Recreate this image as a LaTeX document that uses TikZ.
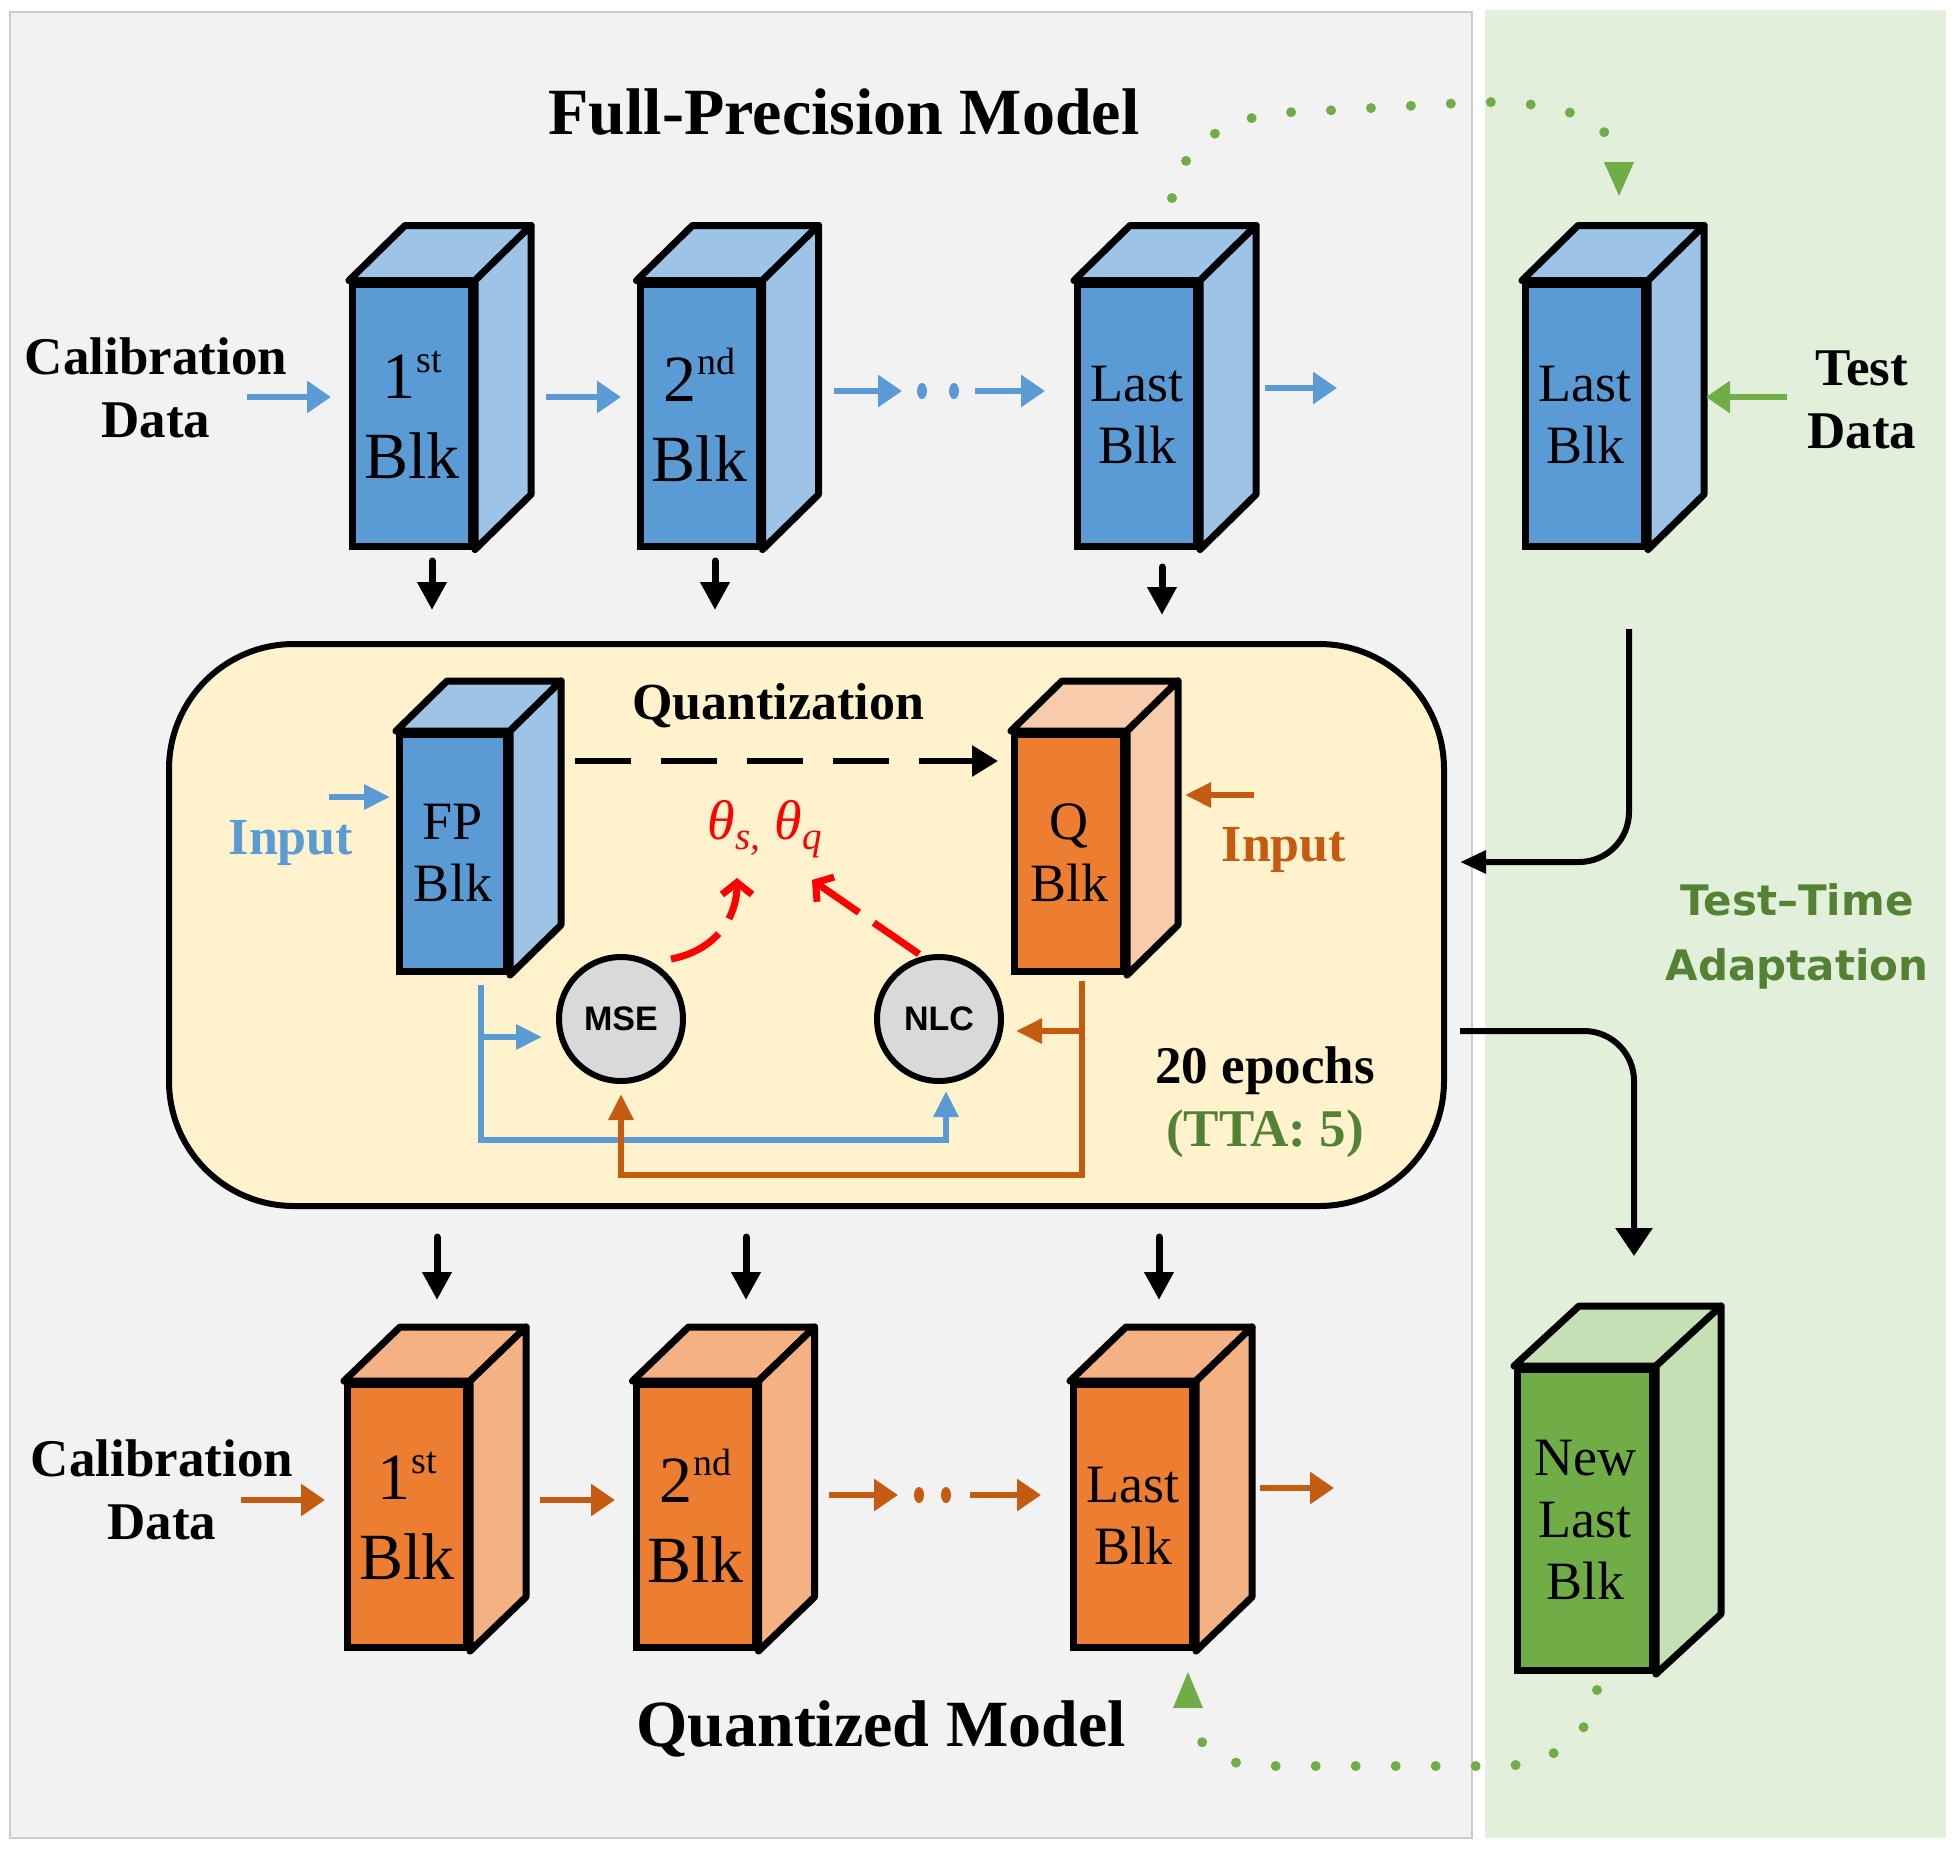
\documentclass[tikz,border=0pt]{standalone}
\usepackage{fontspec}
\setmainfont{Liberation Serif}
\newfontfamily\sansf{Liberation Sans}
\newfontfamily\dejaf{DejaVu Sans}
\usetikzlibrary{arrows.meta,calc}
\definecolor{fpblue}{HTML}{5B9BD5}
\definecolor{fplight}{HTML}{9DC3E6}
\definecolor{qor}{HTML}{ED7D31}
\definecolor{qlight}{HTML}{F4B183}
\definecolor{qlighter}{HTML}{F8CBAD}
\definecolor{gfront}{HTML}{70AD47}
\definecolor{glight}{HTML}{C5E0B4}
\definecolor{arrblue}{HTML}{5B9BD5}
\definecolor{arror}{HTML}{C55A11}
\definecolor{ttagreen}{HTML}{548235}
\definecolor{dotgreen}{HTML}{70AD47}
\definecolor{boxfill}{HTML}{FFF2CC}
\definecolor{panelgray}{HTML}{F2F2F2}
\definecolor{panelgreen}{HTML}{E2EFDA}
\definecolor{circfill}{HTML}{D9D9D9}
\newcommand\fsz[2]{\fontsize{#1}{#2}\selectfont}
\newcommand\supr[1]{\kern1pt\raisebox{0.40em}{\fsz{38}{38}#1}}
% cube: [front options]{name}{(position)}{dx,dy}{side colour}
\newcommand\cube[5][]{%
  \node[blkfront,#1] (#2) at #3 {};
  \draw[blkline,fill=#5] (#2.north west) -- ++(#4) -- ($(#2.north east)+(#4)$) -- (#2.north east) -- cycle;
  \draw[blkline,fill=#5] (#2.north east) -- ++(#4) -- ($(#2.south east)+(#4)$) -- (#2.south east) -- cycle;
}
\begin{document}
\begin{tikzpicture}[x=1pt,y=-1pt,
  blkfront/.style={draw=black, line width=7pt, minimum width=119pt, minimum height=262pt, inner sep=0pt, align=center, text=black},
  blkline/.style={draw=black, line width=7pt, line join=round},
  ordfont/.style={font=\fsz{66}{80}},
  lastfont/.style={font=\fsz{54}{62}},
  harrow/.style={line width=6pt, -{Triangle[length=24pt,width=31pt]}},
  downarrow/.style={draw=black, line width=7pt, line cap=round, -{Triangle[length=28pt,width=28pt]}},
  thinarrow/.style={line width=6pt, -{Triangle[length=26pt,width=24pt]}},
  bigblack/.style={draw=black, line width=6pt},
  greendots/.style={draw=dotgreen, line width=10pt, line cap=round, dash pattern=on 0pt off 40pt},
  redarrow/.style={draw=red, line width=7pt, dash pattern=on 55pt off 18pt, -{Straight Barb[length=12pt,width=30pt]}},
  labelb/.style={font=\bfseries\fsz{53}{63}, align=center},
  circ/.style={circle, draw=black, line width=6pt, fill=circfill, minimum size=124pt, inner sep=0pt, font=\sansf\bfseries\fsz{34}{40}}
]
\useasboundingbox (0,0) rectangle (1960,1856);
% panels
\fill[white] (0,0) rectangle (1960,1856);
\filldraw[fill=panelgray, draw=black!20, line width=1.5pt] (10,12) rectangle (1472,1838);
\fill[panelgreen] (1485,10) rectangle (1946,1838);

% titles
\node[font=\bfseries\fsz{66}{79}] (ttl) at (844,112) {Full-Precision Model};
\node[font=\bfseries\fsz{66}{79}] (ttlq) at (881,1729) {Quantized Model};

% middle box
\node[draw=black, line width=6pt, fill=boxfill, rounded corners=125pt, minimum width=1275pt, minimum height=562pt] (box) at (806.5,925) {};

% top row (full precision)
\cube[fill=fpblue]{t1}{(412,415)}{56,-55}{fplight}
\cube[fill=fpblue]{t2}{(699.5,415)}{56,-55}{fplight}
\cube[fill=fpblue]{t3}{(1137,415)}{56,-55}{fplight}
\cube[fill=fpblue]{t4}{(1585,415)}{56,-55}{fplight}
\node[ordfont, align=center] (t1txt) at (t1) {1\supr{st}\\Blk};
\node[ordfont, align=center] (t2txt) at (t2) {2\supr{nd}\\Blk};
\node[lastfont, align=center] (t3txt) at (t3) {Last\\Blk};
\node[lastfont, align=center] (t4txt) at (t4) {Last\\Blk};

% bottom row (quantized)
\cube[fill=qor, minimum height=263pt]{b1}{(407,1516)}{56,-54}{qlight}
\cube[fill=qor, minimum height=263pt]{b2}{(695.5,1516)}{56,-54}{qlight}
\cube[fill=qor, minimum height=263pt]{b3}{(1133,1516)}{56,-54}{qlight}
\cube[fill=gfront, minimum width=135pt, minimum height=301pt]{nb}{(1585,1520)}{65,-60}{glight}
\node[ordfont, align=center] (b1txt) at (b1) {1\supr{st}\\Blk};
\node[ordfont, align=center] (b2txt) at (b2) {2\supr{nd}\\Blk};
\node[lastfont, align=center] (b3txt) at (b3) {Last\\Blk};
\node[lastfont, align=center] (nbtxt) at (nb) {New\\Last\\Blk};

% middle blocks
\cube[fill=fpblue, minimum width=107pt, minimum height=237pt]{fp}{(453,853)}{51,-50}{fplight}
\cube[fill=qor, minimum width=109pt, minimum height=237pt]{qb}{(1069,853)}{51,-50}{qlighter}
\node[lastfont, align=center] (fptxt) at (fp) {FP\\Blk};
\node[lastfont, align=center] (qtxt) at (qb) {Q\\Blk};

% labels
\node[labelb] (cal1) at (156,388) {Calibration\\Data};
\node[labelb] (cal2) at (162,1490) {Calibration\\Data};
\node[labelb] (test) at (1862,400) {Test\\Data};
\node[font=\bfseries\fsz{52}{60}] (quant) at (778,706) {Quantization};
\node[font=\bfseries\fsz{52}{60}, text=arrblue] (inb) at (291,843) {Input};
\node[font=\bfseries\fsz{52}{60}, text=arror] (ino) at (1284,850) {Input};
\node[font=\itshape\fsz{56}{60}, text=red] (theta) at (765,829) {θ\textsubscript{s,} θ\textsubscript{q}};
\node[font=\bfseries\fsz{53}{63}] (ep) at (1265,1071) {20 epochs};
\node[font=\bfseries\fsz{53}{63}, text=ttagreen] (tta) at (1265,1134) {(TTA: 5)};
\node[font=\dejaf\bfseries\fsz{42}{65}, text=ttagreen, align=center] (ttalbl) at (1797,936) {Test–Time\\Adaptation};

% circles
\node[circ] (mse) at (621,1019) {MSE};
\node[circ] (nlc) at (939,1019) {NLC};

% top row arrows
\draw[harrow, arrblue] (247,397) -- (331,397);
\draw[harrow, arrblue] (546,397) -- (621,397);
\draw[harrow, arrblue] (834,391) -- (902,391);
\fill[arrblue] (922,391) ellipse (5pt and 8pt) (954,391) ellipse (5pt and 8pt);
\draw[harrow, arrblue] (975,391) -- (1045,391);
\draw[harrow, arrblue] (1265,388) -- (1337,388);
\draw[harrow, dotgreen] (1787,397) -- (1706,397);

% bottom row arrows
\draw[harrow, arror] (241,1500) -- (325,1500);
\draw[harrow, arror] (540,1500) -- (615,1500);
\draw[harrow, arror] (829,1495) -- (898,1495);
\fill[arror] (919,1495) ellipse (5pt and 8pt) (946,1495) ellipse (5pt and 8pt);
\draw[harrow, arror] (970,1495) -- (1041,1495);
\draw[harrow, arror] (1260,1488) -- (1334,1488);

% down arrows
\draw[downarrow] (432,561) -- (432,610);
\draw[downarrow] (715,561) -- (715,610);
\draw[downarrow] (1162,567) -- (1162,615);
\draw[downarrow] (437,1237) -- (437,1300);
\draw[downarrow] (746,1237) -- (746,1300);
\draw[downarrow] (1159,1237) -- (1159,1300);

% quantization dashed arrow
\draw[line width=6pt, dash pattern=on 56pt off 30pt, -{Triangle[length=26pt,width=30pt]}] (fp.east |- 0,761) ++(65,0) -- (998,761);

% input arrows
\draw[thinarrow, arrblue] (329,797) -- (390,797);
\draw[thinarrow, arror] (1254,795) -- (1185,795);

% loss wiring
\draw[thinarrow, arrblue] (481,985) -- (481,1140) -- (946,1140) -- (946,1091);
\draw[thinarrow, arrblue] (481,1037) -- ([xshift=-14pt]mse.west |- 0,1037);
\draw[thinarrow, arror] (1082,981) -- (1082,1175) -- (621,1175) -- (621,1094);
\draw[thinarrow, arror] (1082,1031) -- ([xshift=12pt]nlc.east |- 0,1031);

% red arrows
\draw[redarrow] (671,959) .. controls (718,950) and (737,915) .. (737,878);
\draw[redarrow] (919,954) -- (812,880);

% TTA black arrows
\draw[bigblack, rounded corners=50pt, -{Triangle[length=26pt,width=22pt]}] (1629,629) -- (1629,862) -- (1460,862);
\draw[bigblack, rounded corners=50pt, -{Triangle[length=28pt,width=36pt]}] (1460,1031) -- (1634,1031) -- (1634,1256);

% green dotted arrows
\draw[greendots] (1172,198) to[out=82,in=180] (1300,112) -- (1480,102) to[out=0,in=90] (1619,170);
\fill[dotgreen] (1604,162) -- (1634,162) -- (1619,196) -- cycle;
\draw[greendots] (1597,1690) to[out=-95,in=0] (1500,1766) -- (1260,1766) to[out=180,in=-90] (1188,1706);
\fill[dotgreen] (1173,1708) -- (1203,1708) -- (1188,1672) -- cycle;
\end{tikzpicture}
\end{document}
